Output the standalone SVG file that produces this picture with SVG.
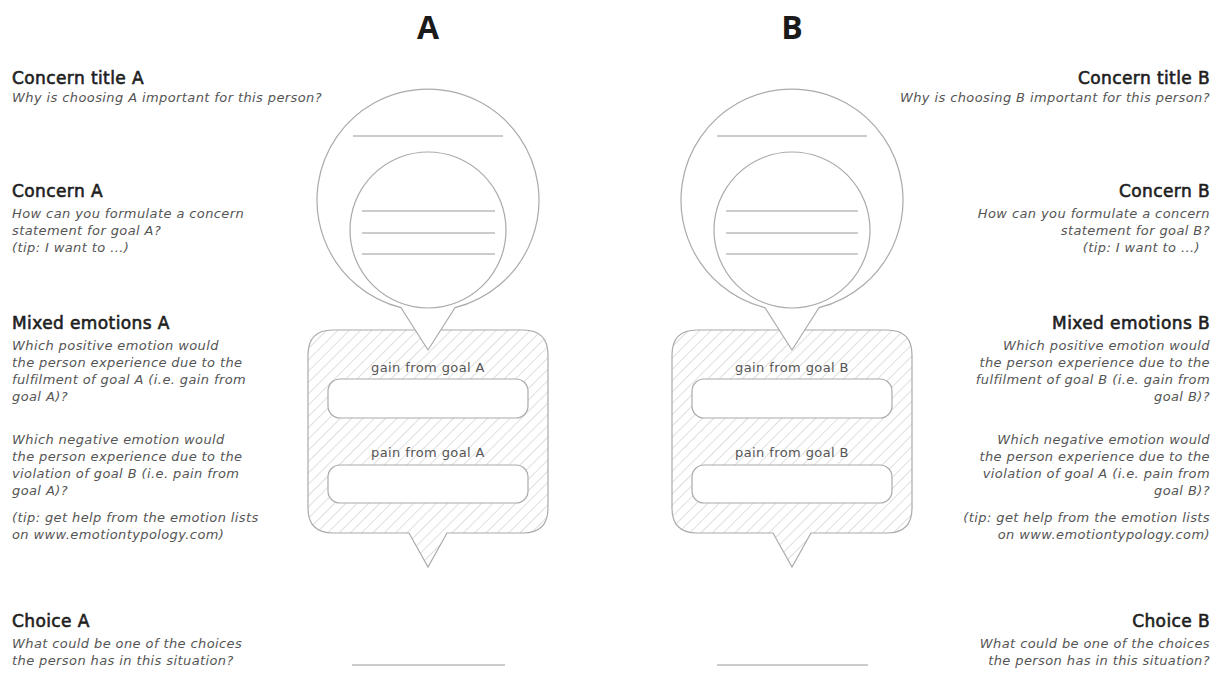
<svg xmlns="http://www.w3.org/2000/svg" width="1222" height="673" viewBox="0 0 1222 673">
<defs>
<pattern id="hatch" width="8" height="8" patternUnits="userSpaceOnUse" patternTransform="rotate(45)">
<line x1="0" y1="0" x2="0" y2="8" stroke="#c4c4c4" stroke-width="1.1"/>
</pattern>
</defs>
<style>
.big{font-family:"Open Sans",Lato,sans-serif;font-weight:700;font-size:32px;fill:#1a1a1a;text-anchor:middle}
.h{font-family:"DejaVu Sans","Open Sans",sans-serif;font-size:17px;letter-spacing:0.4px;fill:#1e1e1e;stroke:#1e1e1e;stroke-width:0.6}
.q{font-family:"DejaVu Sans","Open Sans",sans-serif;font-style:italic;font-size:13px;letter-spacing:0.4px;fill:#555}
.r{text-anchor:end}
.lbl{font-family:"DejaVu Sans","Open Sans",sans-serif;font-size:13px;letter-spacing:0.4px;fill:#555;text-anchor:middle}
.box{fill:url(#hatch);stroke:#aaa;stroke-width:1.2}
.bubble{fill:#fff;stroke:#aaa;stroke-width:1.2}
.slot{fill:#fff;stroke:#aaa;stroke-width:1.2}
.wl{stroke:#bbb;stroke-width:1.3;fill:none}
</style>
<rect width="1222" height="673" fill="#fff"/>
<text class="big" x="428" y="39">A</text>
<text class="big" x="792" y="39">B</text>

<g id="left-text">
<text class="h" x="12" y="84">Concern title A</text>
<text class="q" x="12" y="102">Why is choosing A important for this person?</text>
<text class="h" x="12" y="197">Concern A</text>
<text class="q" x="12" y="218">How can you formulate a concern</text>
<text class="q" x="12" y="235">statement for goal A?</text>
<text class="q" x="12" y="252">(tip: I want to ...)</text>
<text class="h" x="12" y="329">Mixed emotions A</text>
<text class="q" x="12" y="350">Which positive emotion would</text>
<text class="q" x="12" y="367">the person experience due to the</text>
<text class="q" x="12" y="384">fulfilment of goal A (i.e. gain from</text>
<text class="q" x="12" y="401">goal A)?</text>
<text class="q" x="12" y="444">Which negative emotion would</text>
<text class="q" x="12" y="461">the person experience due to the</text>
<text class="q" x="12" y="478">violation of goal B (i.e. pain from</text>
<text class="q" x="12" y="495">goal A)?</text>
<text class="q" x="12" y="522">(tip: get help from the emotion lists</text>
<text class="q" x="12" y="539">on www.emotiontypology.com)</text>
<text class="h" x="12" y="627">Choice A</text>
<text class="q" x="12" y="648">What could be one of the choices</text>
<text class="q" x="12" y="665">the person has in this situation?</text>
</g>

<g id="right-text">
<text class="h r" x="1210" y="84">Concern title B</text>
<text class="q r" x="1210" y="102">Why is choosing B important for this person?</text>
<text class="h r" x="1210" y="197">Concern B</text>
<text class="q r" x="1210" y="218">How can you formulate a concern</text>
<text class="q r" x="1210" y="235">statement for goal B?</text>
<text class="q r" x="1200" y="252">(tip: I want to ...)</text>
<text class="h r" x="1210" y="329">Mixed emotions B</text>
<text class="q r" x="1210" y="350">Which positive emotion would</text>
<text class="q r" x="1210" y="367">the person experience due to the</text>
<text class="q r" x="1210" y="384">fulfilment of goal B (i.e. gain from</text>
<text class="q r" x="1210" y="401">goal B)?</text>
<text class="q r" x="1210" y="444">Which negative emotion would</text>
<text class="q r" x="1210" y="461">the person experience due to the</text>
<text class="q r" x="1210" y="478">violation of goal A (i.e. pain from</text>
<text class="q r" x="1210" y="495">goal B)?</text>
<text class="q r" x="1210" y="522">(tip: get help from the emotion lists</text>
<text class="q r" x="1210" y="539">on www.emotiontypology.com)</text>
<text class="h r" x="1210" y="627">Choice B</text>
<text class="q r" x="1210" y="648">What could be one of the choices</text>
<text class="q r" x="1210" y="665">the person has in this situation?</text>
</g>

<g id="emotions-A">
<path class="box" d="M333,330 H523 Q548,330 548,355 V508 Q548,533 523,533 H447 L428,567 L409,533 H333 Q308,533 308,508 V355 Q308,330 333,330 Z"/>
<rect class="slot" x="328" y="379" width="200" height="39" rx="12"/>
<rect class="slot" x="328" y="465" width="200" height="38" rx="12"/>
<text class="lbl" x="428" y="372">gain from goal A</text>
<text class="lbl" x="428" y="457">pain from goal A</text>
</g>
<g id="concern-A">
<path class="bubble" d="M401,307.7 A111,111 0 1 1 455,307.7 L428,350 Z"/>
<line class="wl" x1="353" y1="136" x2="503" y2="136"/>
<circle class="bubble" cx="428" cy="230" r="78"/>
<line class="wl" x1="362" y1="211" x2="495" y2="211"/>
<line class="wl" x1="362" y1="233" x2="495" y2="233"/>
<line class="wl" x1="362" y1="254" x2="495" y2="254"/>
</g>
<g id="choice-A">
<line class="wl" x1="352" y1="665" x2="505" y2="665"/>
</g>

<g id="emotions-B">
<path class="box" d="M697,330 H887 Q912,330 912,355 V508 Q912,533 887,533 H811 L792,567 L773,533 H697 Q672,533 672,508 V355 Q672,330 697,330 Z"/>
<rect class="slot" x="692" y="379" width="200" height="39" rx="12"/>
<rect class="slot" x="692" y="465" width="200" height="38" rx="12"/>
<text class="lbl" x="792" y="372">gain from goal B</text>
<text class="lbl" x="792" y="457">pain from goal B</text>
</g>
<g id="concern-B">
<path class="bubble" d="M765,307.7 A111,111 0 1 1 819,307.7 L792,350 Z"/>
<line class="wl" x1="717" y1="136" x2="867" y2="136"/>
<circle class="bubble" cx="792" cy="230" r="78"/>
<line class="wl" x1="726" y1="211" x2="858" y2="211"/>
<line class="wl" x1="726" y1="233" x2="858" y2="233"/>
<line class="wl" x1="726" y1="254" x2="858" y2="254"/>
</g>
<g id="choice-B">
<line class="wl" x1="717" y1="665" x2="868" y2="665"/>
</g>
<g id="connectors"/>
</svg>
